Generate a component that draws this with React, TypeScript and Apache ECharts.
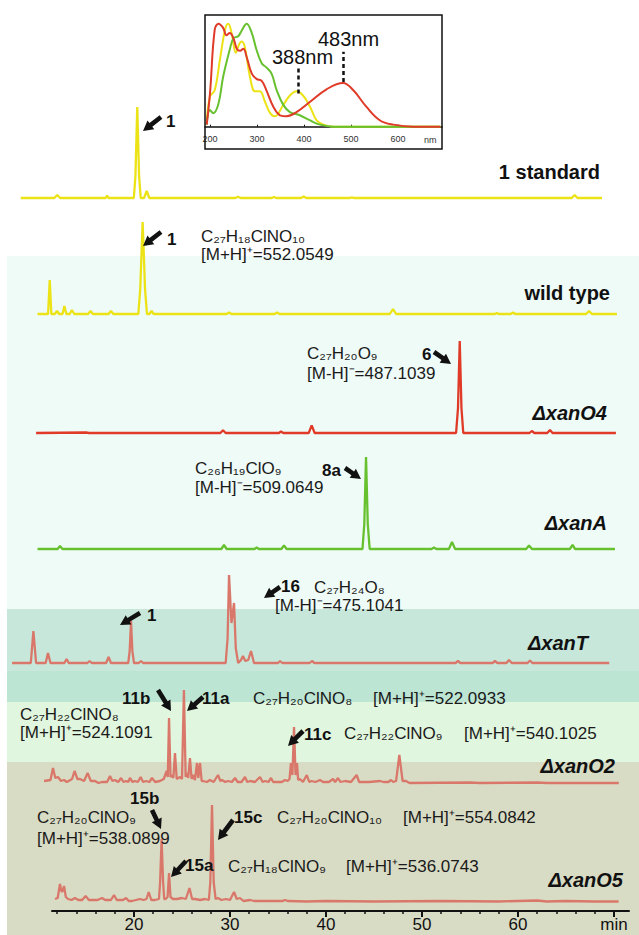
import React, { useEffect, useRef } from 'react';
import * as echarts from 'echarts';

// ---------- DATA ----------
// Chromatogram traces: [retention time (min), signal height above the trace baseline]
const STD1: [number, number][] = [
  [8.2, 0], [11.7, 0], [12.0, 3], [12.3, 0], [17.05, 0], [17.2, 2.5], [17.35, 0], [19.98, 0], [20.15, 22], [20.34, 91],
  [20.53, 22], [20.7, 0], [21.05, 0], [21.32, 7], [21.6, 0], [30.55, 0], [30.83, 1.2], [31.1, 0], [34.35, 0], [34.58, 1],
  [34.8, 0], [37.4, 0], [37.67, 1.5], [37.95, 0], [42.5, 0], [42.7, 0.6], [42.9, 0], [65.6, 0], [65.9, 3], [66.2, 0], [68.75, 0],
];
const WILD: [number, number][] = [
  [9.95, 0], [11.05, 0], [11.22, 34], [11.39, 0], [11.75, 0], [11.98, 3], [12.2, 0], [12.55, 0], [12.75, 8], [12.95, 0],
  [13.3, 0], [13.54, 4], [13.78, 0], [15.22, 0], [15.47, 3], [15.72, 0], [17.35, 0], [17.6, 3], [17.85, 0], [20.45, 0],
  [20.65, 25], [20.9, 92], [21.15, 25], [21.35, 0], [21.6, 0], [21.83, 3], [22.05, 0], [29.65, 0], [29.9, 1.5], [30.15, 0],
  [34.65, 0], [34.9, 1.5], [35.15, 0], [46.65, 0], [46.98, 5], [47.3, 0], [57.6, 0], [57.8, 1], [58.0, 0], [59.25, 0],
  [59.48, 1.5], [59.7, 0], [67.1, 0], [67.4, 3], [67.7, 0], [70.3, 0],
];
const XANO4: [number, number][] = [
  [9.8, 0], [15.0, 0.5], [15.3, 0], [29.0, 0], [29.27, 2.7], [29.55, 0], [35.1, 0], [35.31, 1.5], [35.55, 0], [38.2, 0],
  [38.51, 7.7], [38.82, 0], [53.55, 0], [53.75, 25], [53.93, 92], [54.11, 25], [54.3, 0], [61.2, 0], [61.44, 2], [61.7, 0],
  [63.05, 0], [63.33, 3], [63.6, 0], [70.2, 0],
];
const XANA: [number, number][] = [
  [9.95, 0], [12.05, 0], [12.29, 3], [12.55, 0], [29.1, 0], [29.375, 4], [29.65, 0], [32.55, 0], [32.78, 1.5], [33.0, 0],
  [35.35, 0], [35.625, 3.5], [35.9, 0], [43.8, 0], [43.99, 25], [44.17, 92], [44.35, 25], [44.55, 0], [51.0, 0], [51.25, 1.5],
  [51.5, 0], [52.8, 0], [53.125, 7], [53.45, 0], [60.85, 0], [61.15, 3.5], [61.45, 0], [65.4, 0], [65.68, 4], [65.95, 0], [70.1, 0],
];
const XANT: [number, number][] = [
  [7.3, 0], [9.25, 0], [9.52, 32], [9.8, 0], [10.8, 0], [11.04, 10], [11.3, 0], [12.75, 0], [12.98, 4], [13.2, 0],
  [15.15, 0], [15.375, 2], [15.6, 0], [17.1, 0], [17.35, 6], [17.6, 0], [19.4, 0], [19.55, 12], [19.69, 42], [19.83, 12],
  [20.0, 0], [20.5, 0], [20.73, 2], [20.95, 0], [29.55, 0], [29.75, 25], [29.9, 88], [30.15, 40], [30.42, 60], [30.6, 15],
  [30.85, 0], [31.15, 3], [31.35, 7], [31.6, 2], [31.9, 3], [32.19, 12], [32.5, 0], [35.0, 0], [35.21, 2], [35.45, 0],
  [38.3, 0], [38.54, 2], [38.8, 0], [53.5, 0], [53.75, 2], [54.0, 0], [57.35, 0], [57.6, 2], [57.85, 0], [58.8, 0],
  [59.06, 3], [59.35, 0], [61.0, 0], [61.25, 2.5], [61.5, 0], [69.5, 0],
];
const XANO2: [number, number][] = [
  [10.63, 2], [11.3, 3], [11.56, 15], [11.8, 5], [12.08, 6], [12.4, 2], [12.71, 3], [13.0, 1], [13.55, 4], [13.81, 12],
  [14.1, 4], [14.375, 4], [14.8, 2], [15.17, 10], [15.5, 2], [15.94, 2], [16.3, 0], [16.67, 1], [17.2, 1], [17.5, 7],
  [17.75, 2], [18.02, 3], [18.35, 1], [18.65, 5], [18.9, 1], [19.17, 2], [19.4, 1], [19.58, 5], [19.85, 1], [20.1, 2],
  [20.4, 1], [20.69, 6], [20.95, 1], [21.25, 2], [21.6, 1], [21.875, 5], [22.2, 1], [22.7, 2], [23.1, 4], [23.4, 12],
  [23.52, 6], [23.65, 65], [23.8, 6], [23.96, 8], [24.1, 5], [24.27, 30], [24.45, 4], [24.79, 6], [25.0, 4], [25.2, 93],
  [25.38, 6], [25.52, 10], [25.65, 5], [25.83, 25], [26.0, 4], [26.15, 8], [26.35, 3], [26.56, 20], [26.7, 5], [26.875, 20],
  [27.05, 2], [27.19, 2], [27.6, 1], [27.9, 3], [28.3, 1], [28.75, 8], [29.0, 2], [29.17, 3], [29.5, 1], [29.79, 2],
  [30.2, 1], [30.52, 5], [30.8, 1], [31.2, 1], [31.56, 6], [31.8, 1], [32.1, 2], [32.6, 1], [33.125, 6], [33.4, 1],
  [33.65, 2], [34.0, 1], [34.27, 5], [34.5, 1], [34.8, 1], [35.4, 1], [35.73, 3], [36.0, 2], [36.2, 4], [36.35, 20],
  [36.5, 8], [36.67, 56], [36.83, 8], [36.98, 20], [37.1, 3], [37.29, 4], [37.6, 1], [38.0, 8], [38.25, 1], [38.5, 2],
  [38.9, 1], [39.375, 3], [39.7, 1], [40.3, 1], [40.73, 4], [40.95, 1], [41.25, 5], [41.5, 1], [41.98, 2], [42.6, 1],
  [43.19, 8], [43.45, 1], [43.75, 1], [44.5, 1], [45.625, 2], [46.0, 1], [46.5, 1], [46.77, 3], [47.0, 1], [47.3, 2],
  [47.64, 28], [47.98, 2], [48.33, 2], [48.7, 0], [55, 0.5], [56, 0], [62, 0.5], [63, 0], [70.5, 0],
];
const XANO5: [number, number][] = [
  [11.77, 3], [12.05, 4], [12.29, 18], [12.4, 12], [12.5, 10], [12.6, 12], [12.71, 16], [12.9, 5], [13.125, 3], [13.5, 2],
  [13.85, 4], [14.2, 2], [14.6, 2], [14.96, 6], [15.3, 2], [15.625, 2], [16.2, 2], [16.67, 4], [17.0, 2], [17.29, 2],
  [17.6, 2], [17.92, 7], [18.2, 2], [18.54, 2], [18.85, 2], [19.17, 4], [19.45, 1], [19.79, 1], [20.2, 2], [20.625, 3],
  [21.0, 2], [21.3, 3], [21.53, 10], [21.8, 2], [22.19, 2], [22.6, 3], [22.72, 20], [22.875, 63], [23.03, 20], [23.15, 3],
  [23.29, 3], [23.5, 5], [23.65, 29], [23.8, 5], [24.06, 3], [24.5, 3], [25.0, 4], [25.4, 3], [25.78, 14], [26.05, 3],
  [26.35, 3], [26.9, 2], [27.4, 3], [27.8, 2], [27.95, 20], [28.125, 97], [28.3, 20], [28.5, 3], [28.75, 4], [29.1, 2],
  [29.58, 3], [30.0, 2], [30.42, 10], [30.7, 3], [31.04, 4], [31.4, 1], [32.1, 2], [32.5, 1], [33.5, 1], [35.5, 1],
  [35.73, 2], [36, 1], [38, 0.5], [40, 1], [45, 0.5], [52, 1], [58, 0.5], [62, 1.5], [63, 0.5], [65, 1], [68, 0.5], [70.48, 0.5],
];

// UV-Vis spectra (inset): [wavelength nm, normalised absorbance]
const UV_YELLOW: [number, number][] = [
  [193, 0.03], [200, 0.29], [210, 0.35], [221, 0.64], [232, 0.93], [239, 0.99], [246, 0.9], [255, 0.71], [260, 0.77],
  [267, 0.82], [274, 0.77], [285, 0.48], [296, 0.34], [306, 0.34], [317, 0.24], [328, 0.13], [338, 0.1], [356, 0.21],
  [370, 0.3], [384, 0.34], [398, 0.3], [413, 0.19], [427, 0.06], [441, 0.02], [462, 0], [690, 0],
];
const UV_GREEN: [number, number][] = [
  [193, 0.02], [200, 0.16], [207, 0.13], [218, 0.22], [228, 0.48], [242, 0.74], [250, 0.85], [260, 0.87], [267, 0.92],
  [278, 0.99], [289, 0.9], [299, 0.74], [310, 0.61], [320, 0.57], [331, 0.51], [342, 0.35], [356, 0.21], [370, 0.14],
  [391, 0.11], [413, 0.06], [434, 0.02], [462, 0], [690, 0],
];
const UV_RED: [number, number][] = [
  [193, 0.02], [200, 0.32], [210, 0.93], [218, 0.99], [228, 0.95], [235, 0.88], [242, 0.9], [250, 0.85], [257, 0.75],
  [264, 0.73], [271, 0.75], [278, 0.67], [289, 0.51], [299, 0.46], [310, 0.44], [320, 0.35], [335, 0.19], [349, 0.11],
  [363, 0.1], [384, 0.14], [413, 0.24], [448, 0.36], [483, 0.42], [505, 0.35], [533, 0.19], [562, 0.06], [590, 0.02],
  [633, 0], [690, 0],
];
const UV_MARKS = [388, 483];
const UV_TICKS = [200, 300, 400, 500, 600];

// Retention-time axis ticks
const TIME_MINOR = [12, 14, 16, 18, 20, 22, 24, 26, 28, 30, 32, 34, 36, 38, 40, 42, 44, 46, 48, 50, 52, 54, 56, 58, 60, 62, 64, 66, 68, 70];
const TIME_MAJOR = [20, 30, 40, 50, 60, 70];

// ---------- LAYOUT ----------
const W = 639, H = 935;
const PX_PER_MIN = 9.6, X20 = 134; // pixel x of 20 min
const tAt = (px: number) => 20 + (px - X20) / PX_PER_MIN;

const YELLOW = '#ece317';
const RED = '#e03a28';
const GREEN = '#67c12f';
const SALMON = '#d9786a';
const FONT = '"Liberation Sans", Arial, Helvetica, sans-serif';

const TRACES = [
  { name: '1 standard', data: STD1, base: 198, color: YELLOW },
  { name: 'wild type', data: WILD, base: 314, color: YELLOW },
  { name: 'ΔxanO4', data: XANO4, base: 433, color: RED },
  { name: 'ΔxanA', data: XANA, base: 549, color: GREEN },
  { name: 'ΔxanT', data: XANT, base: 663, color: SALMON },
  { name: 'ΔxanO2', data: XANO2, base: 783, color: SALMON },
  { name: 'ΔxanO5', data: XANO5, base: 902, color: SALMON },
];

const TRACE_LABELS = [
  { s: '1 standard', x: 600, y: 172, italic: false },
  { s: 'wild type', x: 610, y: 293, italic: false },
  { s: 'ΔxanO4', x: 607, y: 413, italic: true },
  { s: 'ΔxanA', x: 607, y: 523, italic: true },
  { s: 'ΔxanT', x: 588, y: 643, italic: true },
  { s: 'ΔxanO2', x: 615, y: 766, italic: true },
  { s: 'ΔxanO5', x: 623, y: 880, italic: true },
];

const BANDS = [
  { y0: 256, y1: 609, color: '#effbf7' },
  { y0: 609, y1: 671, color: '#c7e7da' },
  { y0: 671, y1: 702, color: '#bde5d4' },
  { y0: 702, y1: 762, color: '#e1f6de' },
  { y0: 762, y1: 935, color: '#d9dcc5' },
];

const COMPOUNDS = [
  { s: '1', x: 166, y: 121 }, { s: '1', x: 167, y: 239 }, { s: '6', x: 422, y: 354 }, { s: '8a', x: 322, y: 470 },
  { s: '1', x: 147, y: 615 }, { s: '16', x: 281, y: 586 }, { s: '11b', x: 122, y: 698 }, { s: '11a', x: 202, y: 698 },
  { s: '11c', x: 304, y: 734 }, { s: '15b', x: 130, y: 798 }, { s: '15c', x: 234, y: 817 }, { s: '15a', x: 185, y: 865 },
];

const ARROWS: [number, number, number, number][] = [
  [161, 117, 143, 131], [161, 232, 143, 246], [434, 352, 451, 364], [345, 468, 361, 479],
  [140, 613, 120, 625], [280, 587, 264, 598], [158, 690, 171, 711], [203, 697, 187, 711],
  [303, 731, 288, 746], [152, 810, 161, 829], [233, 820, 218, 840], [186, 861, 171, 877],
];

const TEXTS = [
  { k: 'f', s: 'C27H18ClNO10', x: 201, y: 236 }, { k: 'i', s: '[M+H]+=552.0549', x: 201, y: 254 },
  { k: 'f', s: 'C27H20O9', x: 307, y: 353 }, { k: 'i', s: '[M-H]-=487.1039', x: 307, y: 373 },
  { k: 'f', s: 'C26H19ClO9', x: 195, y: 468 }, { k: 'i', s: '[M-H]-=509.0649', x: 195, y: 487 },
  { k: 'f', s: 'C27H24O8', x: 314, y: 587 }, { k: 'i', s: '[M-H]-=475.1041', x: 275, y: 605 },
  { k: 'f', s: 'C27H20ClNO8', x: 253, y: 698 }, { k: 'i', s: '[M+H]+=522.0933', x: 373, y: 698 },
  { k: 'f', s: 'C27H22ClNO8', x: 20, y: 714 }, { k: 'i', s: '[M+H]+=524.1091', x: 20, y: 732 },
  { k: 'f', s: 'C27H22ClNO9', x: 344, y: 733 }, { k: 'i', s: '[M+H]+=540.1025', x: 464, y: 733 },
  { k: 'f', s: 'C27H20ClNO9', x: 37, y: 817 }, { k: 'i', s: '[M+H]+=538.0899', x: 37, y: 838 },
  { k: 'f', s: 'C27H20ClNO10', x: 277, y: 817 }, { k: 'i', s: '[M+H]+=554.0842', x: 403, y: 817 },
  { k: 'f', s: 'C27H18ClNO9', x: 228, y: 866 }, { k: 'i', s: '[M+H]+=536.0743', x: 346, y: 866 },
];

const SUB = '₀₁₂₃₄₅₆₇₈₉';
function formulaText(s: string) {
  return s.replace(/\d/g, (d) => SUB[+d]);
}
function ionText(s: string) {
  const i = s.indexOf(']');
  return s.slice(0, i + 1) + (s[i + 1] === '+' ? '⁺' : '⁻') + s.slice(i + 2);
}

function arrowPoints(tx: number, ty: number, hx: number, hy: number) {
  const dx = hx - tx, dy = hy - ty;
  const L = Math.hypot(dx, dy);
  const ux = dx / L, uy = dy / L, px = -uy, py = ux;
  const headLen = Math.min(10, L * 0.55), headW = 5.5, shaftW = 2.3;
  const bx = hx - ux * headLen, by = hy - uy * headLen;
  return [
    [tx + px * shaftW, ty + py * shaftW], [bx + px * shaftW, by + py * shaftW], [bx + px * headW, by + py * headW],
    [hx, hy], [bx - px * headW, by - py * headW], [bx - px * shaftW, by - py * shaftW], [tx - px * shaftW, ty - py * shaftW],
  ];
}

export default function App() {
  const ref = useRef<HTMLDivElement>(null);
  useEffect(() => {
    document.body.style.margin = '0';
    const chart = echarts.init(ref.current!, null, { renderer: 'svg' });
    const tMin = tAt(0), tMax = tAt(W);
    const axMin = tAt(52), axMax = tAt(629);

    const graphics: any[] = [];
    BANDS.forEach((b) => graphics.push({ type: 'rect', z: -10, silent: true, shape: { x: 7, y: b.y0, width: W - 7, height: b.y1 - b.y0 }, style: { fill: b.color } }));
    graphics.push({ type: 'rect', z: 50, shape: { x: 205, y: 15, width: 237, height: 134 }, style: { fill: 'none', stroke: '#111', lineWidth: 1.5 } });
    graphics.push({ type: 'text', z: 50, x: 424, y: 140, style: { text: 'nm', font: `9px ${FONT}`, fill: '#333', verticalAlign: 'middle', textVerticalAlign: 'middle' } });
    graphics.push({ type: 'text', z: 50, x: 272, y: 57, style: { text: '388nm', font: `20px ${FONT}`, fill: '#111', lineHeight: 18, verticalAlign: 'middle', textVerticalAlign: 'middle' } });
    graphics.push({ type: 'text', z: 50, x: 318, y: 39, style: { text: '483nm', font: `20px ${FONT}`, fill: '#111', lineHeight: 18, verticalAlign: 'middle', textVerticalAlign: 'middle' } });
    TRACE_LABELS.forEach((l) => graphics.push({
      type: 'text', z: 50, x: l.x, y: l.y,
      style: { text: l.s, font: `${l.italic ? 'italic ' : ''}bold 20px ${FONT}`, fill: '#111', lineHeight: 18, align: 'right', textAlign: 'right', verticalAlign: 'middle', textVerticalAlign: 'middle' },
    }));
    COMPOUNDS.forEach((c) => graphics.push({
      type: 'text', z: 50, x: c.x, y: c.y,
      style: { text: c.s, font: `bold 17px ${FONT}`, fill: '#111', lineHeight: 15, verticalAlign: 'middle', textVerticalAlign: 'middle' },
    }));
    ARROWS.forEach((a) => graphics.push({ type: 'polygon', z: 50, shape: { points: arrowPoints(a[0], a[1], a[2], a[3]) }, style: { fill: '#111' } }));
    TEXTS.forEach((t) => graphics.push({
      type: 'text', z: 50, x: t.x, y: t.y,
      style: {
        text: t.k === 'f' ? formulaText(t.s) : ionText(t.s), font: `17px ${FONT}`, fill: '#1a1a1a', lineHeight: 15,
        verticalAlign: 'middle', textVerticalAlign: 'middle',
      },
    }));

    const traceSeries = TRACES.map((tr) => ({
      type: 'line', name: tr.name, xAxisIndex: 0, yAxisIndex: 0, showSymbol: false, symbol: 'none', silent: true,
      lineStyle: { color: tr.color, width: 2.3 }, itemStyle: { color: tr.color },
      data: tr.data.map(([t, h]) => [t, tr.base - h]),
    }));
    const uvSeries = [
      { d: UV_YELLOW, c: YELLOW, mark: UV_MARKS[0], y0: 0.32, y1: 0.56 },
      { d: UV_GREEN, c: GREEN, mark: null, y0: 0, y1: 0 },
      { d: UV_RED, c: RED, mark: UV_MARKS[1], y0: 0.43, y1: 0.72 },
    ].map((u) => ({
      type: 'line', xAxisIndex: 3, yAxisIndex: 2, smooth: 0.4, showSymbol: false, symbol: 'none', silent: true,
      lineStyle: { color: u.c, width: 2 }, data: u.d,
      markLine: u.mark ? {
        silent: true, symbol: 'none', label: { show: false },
        lineStyle: { color: '#111', type: [4, 3], width: 2.5 },
        data: [[{ coord: [u.mark, u.y0] }, { coord: [u.mark, u.y1] }]],
      } : undefined,
    }));

    chart.setOption({
      animation: false,
      backgroundColor: '#ffffff',
      grid: [
        { left: 0, top: 0, width: W, height: H },
        { left: 52, top: 899, width: 577, height: 12 },
        { left: 205, top: 15, width: 237, height: 116.7 },
      ],
      xAxis: [
        { gridIndex: 0, type: 'value', min: tMin, max: tMax, show: false },
        {
          gridIndex: 1, type: 'value', min: axMin, max: axMax, position: 'bottom', offset: 0,
          axisLine: { show: true, lineStyle: { color: '#111', width: 2 } },
          axisTick: { show: true, customValues: TIME_MINOR, length: 3, lineStyle: { color: '#111', width: 1.5 } },
          axisLabel: { show: false }, splitLine: { show: false },
        },
        {
          gridIndex: 1, type: 'value', min: axMin, max: axMax, position: 'bottom', offset: 0,
          axisLine: { show: false },
          axisTick: { show: true, customValues: TIME_MAJOR, length: 6, lineStyle: { color: '#111', width: 2 } },
          axisLabel: {
            show: true, customValues: TIME_MAJOR, fontSize: 17, fontFamily: FONT, color: '#111', margin: 5,
            formatter: (v: number) => (v === 70 ? 'min' : String(v)),
          },
          splitLine: { show: false },
        },
        {
          gridIndex: 2, type: 'value', min: 189.4, max: 693.6, position: 'bottom',
          axisLine: { show: true, lineStyle: { color: '#111', width: 1.5 } },
          axisTick: { show: true, customValues: UV_TICKS, inside: true, length: 2, lineStyle: { color: '#111' } },
          axisLabel: { show: true, customValues: UV_TICKS, fontSize: 9, fontFamily: FONT, color: '#333', margin: 3 },
          splitLine: { show: false },
        },
      ],
      yAxis: [
        { gridIndex: 0, type: 'value', min: 0, max: H, inverse: true, show: false },
        { gridIndex: 1, type: 'value', min: 0, max: 1, show: false },
        { gridIndex: 2, type: 'value', min: -0.048, max: 1.074, show: false },
      ],
      series: [...traceSeries, ...uvSeries],
      graphic: graphics,
    });
    return () => chart.dispose();
  }, []);
  return <div ref={ref} style={{ width: W, height: H }} />;
}
